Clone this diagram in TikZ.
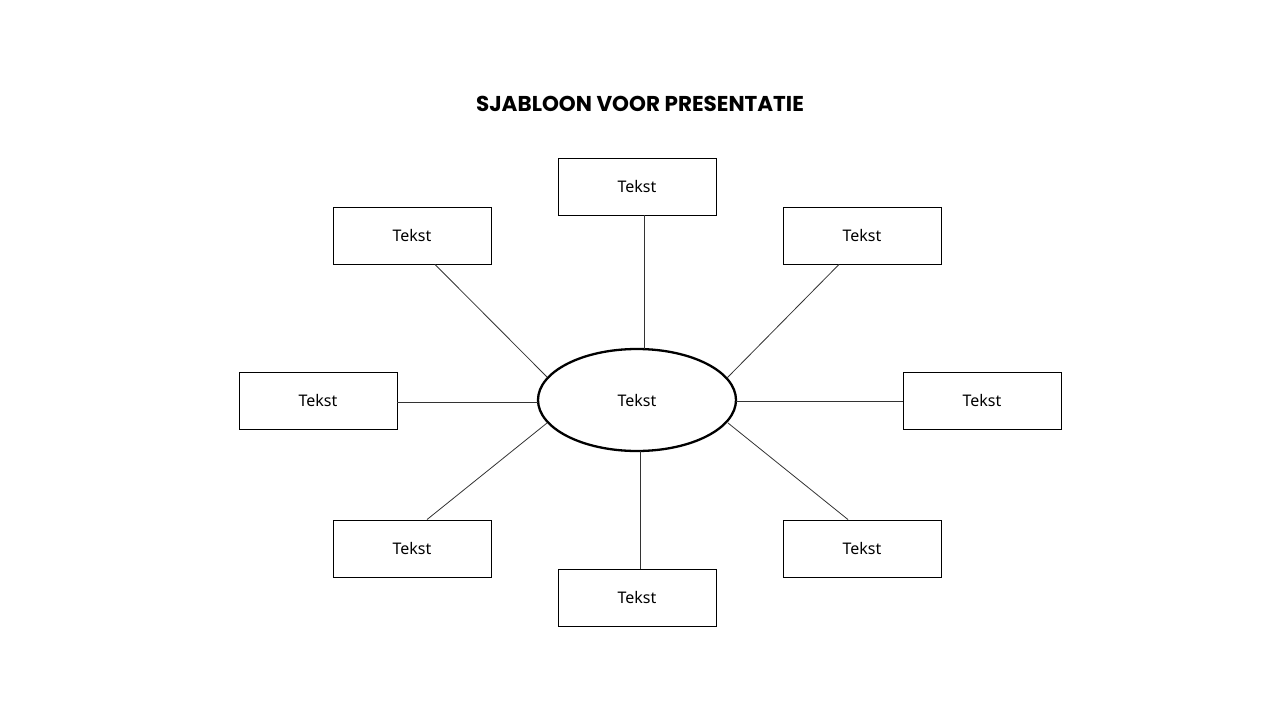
\documentclass[tikz,border=0pt]{standalone}
\usepackage{fontspec}
\setmainfont{Noto Sans}
\newfontfamily\titlefont{Poppins}
\usetikzlibrary{shapes.geometric}
\begin{document}
\begin{tikzpicture}[x=1pt,y=-1pt,
  box/.style={draw=black,line width=0.9pt,minimum width=158pt,minimum height=57pt,inner sep=0pt,font=\fontsize{16}{18}\selectfont},
  link/.style={draw=black!80,line width=0.8pt}]
\useasboundingbox (0,0) rectangle (1280,720);
\node[font=\titlefont\bfseries\fontsize{21.5}{24}\selectfont] (title) at (640,104) {SJABLOON VOOR PRESENTATIE};
\node[draw,ellipse,line width=2.3pt,minimum width=198pt,minimum height=102pt,inner sep=0pt,font=\fontsize{16}{18}\selectfont] (c) at (637,400) {Tekst};
\node[box] (t) at (637,186.5) {Tekst};
\node[box] (tl) at (412,235.5) {Tekst};
\node[box] (tr) at (862,235.5) {Tekst};
\node[box] (l) at (318,400.5) {Tekst};
\node[box] (r) at (982,400.5) {Tekst};
\node[box] (bl) at (412,548.5) {Tekst};
\node[box] (br) at (862,548.5) {Tekst};
\node[box] (b) at (637,597.5) {Tekst};
\coordinate (ct) at (644,349);
\coordinate (ctl) at (547,377);
\coordinate (ctr) at (727,378);
\coordinate (cl) at (538,402);
\coordinate (cr) at (736,401);
\coordinate (cbl) at (547,423);
\coordinate (cbr) at (728,423);
\coordinate (cb) at (640,451);
\draw[link] ([xshift=7pt]t.south) -- (ct);
\draw[link] ([xshift=23pt]tl.south) -- (ctl);
\draw[link] ([xshift=-23pt]tr.south) -- (ctr);
\draw[link] ([yshift=-1.5pt]l.east) -- (cl);
\draw[link] ([yshift=-0.5pt]r.west) -- (cr);
\draw[link] ([xshift=15pt]bl.north) -- (cbl);
\draw[link] ([xshift=-14pt]br.north) -- (cbr);
\draw[link] ([xshift=3pt]b.north) -- (cb);
\end{tikzpicture}
\end{document}
